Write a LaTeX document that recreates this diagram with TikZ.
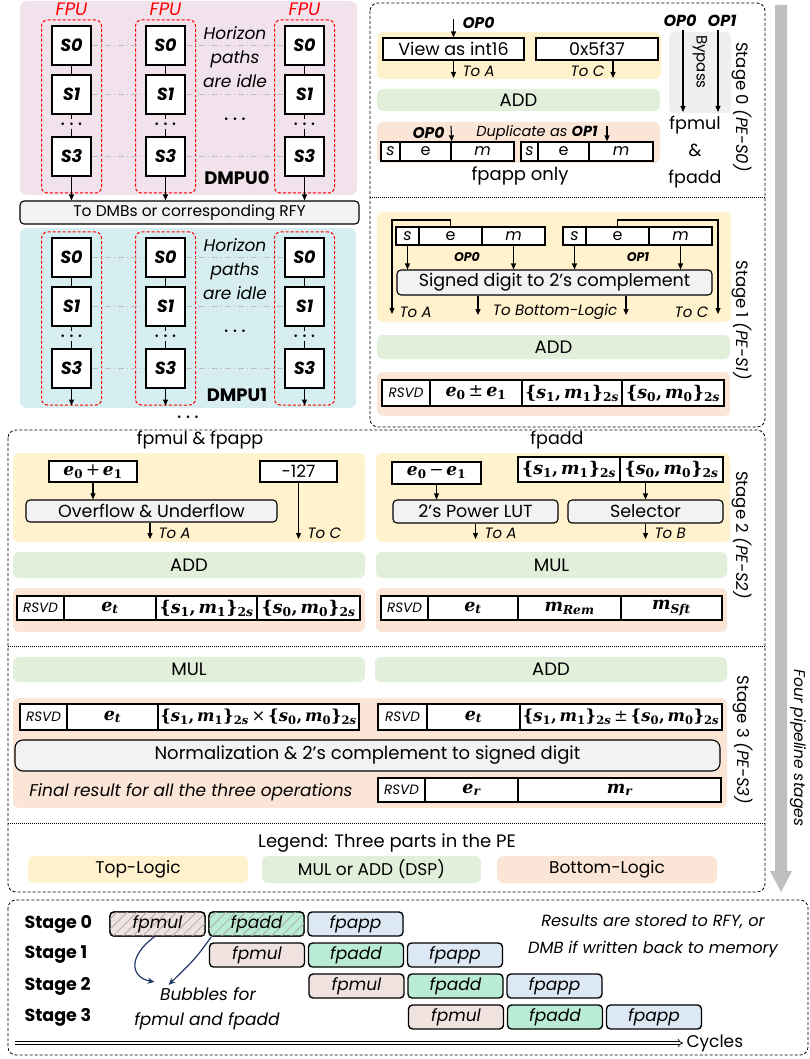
\RequirePackage{fix-cm}
\documentclass[tikz,border=0pt]{standalone}
\usepackage[no-math]{fontspec}
\setmainfont{Poppins}
\newfontfamily\mathlike{DejaVu Serif}
\usetikzlibrary{positioning,calc,arrows.meta,patterns.meta}
\definecolor{TopY}{HTML}{FFF2CC}
\definecolor{DspG}{HTML}{E2EFDA}
\definecolor{BotO}{HTML}{FBE5D6}
\definecolor{BoxGray}{HTML}{F2F2F2}
\definecolor{ByGray}{HTML}{EFEFEF}
\definecolor{PinkP}{HTML}{F1E2EB}
\definecolor{CyanP}{HTML}{D7EEF0}
\definecolor{FpuRed}{HTML}{FF0000}
\definecolor{PathGray}{HTML}{BFBFBF}
\definecolor{MulC}{HTML}{F0E3DF}
\definecolor{AddC}{HTML}{B9EBD5}
\definecolor{AppC}{HTML}{DDE8F5}
\definecolor{Navy}{HTML}{1F3864}
\newcommand{\fsz}[2]{\fontsize{#1}{#2}\selectfont}
\newcommand{\rsv}{{\fsz{13.5}{13.5}\itshape RSVD}}
% bold serif "math" look
\newcommand{\mf}{\mathlike\bfseries}
\newcommand{\mvar}[2]{{\mf\itshape #1}\textsubscript{\mf #2}}
\newcommand{\mvari}[2]{{\mf\itshape #1}\textsubscript{\mf\itshape #2}}
\newcommand{\mpair}[1]{{\mf\{}\mvar{s}{#1}{\mf,\,}\mvar{m}{#1}{\mf\}}\textsubscript{\mf 2\itshape s}}
\newcommand{\mop}[1]{\,{\mathlike #1}\,}
\begin{document}
\begin{tikzpicture}[x=1pt,y=-1pt,font=\fsz{17.5}{17.5},
  panel/.style={rounded corners=6pt,inner sep=0pt},
  toplogic/.style={panel,fill=TopY},
  dsp/.style={panel,fill=DspG,font=\fsz{18}{18}},
  botlogic/.style={panel,fill=BotO},
  wbox/.style={draw,line width=1.3pt,fill=white,inner sep=0pt},
  gbox/.style={draw,line width=1.1pt,fill=BoxGray,rounded corners=4pt,inner sep=0pt},
  field/.style={draw,line width=1.3pt,fill=white,inner sep=0pt,font=\fsz{16}{16}},
  rcell/.style={draw,line width=1.5pt,fill=white,inner sep=0pt,font=\fsz{17.5}{17.5}},
  sbox/.style={draw,line width=1.2pt,fill=white,minimum size=39pt,inner sep=0pt,font=\fsz{17.5}{17.5}\bfseries\itshape},
  fpubox/.style={draw=FpuRed,dash pattern=on 3pt off 2pt,line width=1pt,rounded corners=6pt},
  fpulbl/.style={text=FpuRed,font=\fsz{18}{18}\itshape},
  hpath/.style={draw=PathGray,dash pattern=on 6pt off 3pt on 1pt off 3pt,line width=1pt},
  arr/.style={-{Triangle[length=6pt,width=5pt]},line width=1.1pt},
  oplbl/.style={font=\fsz{15.5}{15.5}\bfseries\itshape},
  tolbl/.style={font=\fsz{15}{15}\itshape},
  stagelbl/.style={rotate=-90,font=\fsz{16.5}{16.5}},
  stagebox/.style={draw,dash pattern=on 3pt off 2pt,line width=0.8pt,rounded corners=8pt},
  sepline/.style={draw,dash pattern=on 1pt off 1pt,line width=0.9pt},
  opcell/.style={draw,line width=1.4pt,rounded corners=4pt,minimum width=95pt,minimum height=24pt,inner sep=0pt,font=\fsz{17}{17}\itshape},
  hatch/.style={postaction={pattern={Lines[angle=45,distance=7pt,line width=0.8pt]},pattern color=gray!65}},
  navyarr/.style={draw=Navy,line width=1.2pt,-{Stealth[length=7pt,width=6pt]}}]
\useasboundingbox (0,0) rectangle (810,1059);
% DMPU panels
\fill[PinkP,rounded corners=7pt] (20,1) rectangle (357,195);
\fill[CyanP,rounded corners=7pt] (20,228) rectangle (356,408);
\node[gbox,minimum width=339pt,minimum height=23pt,font=\fsz{15.5}{15.5}] (tod) at (189.5,212.5) {To DMBs or corresponding RFY};
\foreach \cx [count=\c] in {71.5,165.5,304.5}
  \node[fpulbl] (fl\c) at (\cx,9) {FPU};
% FPU columns, S0..S3 in each
\foreach \dy/\ly/\nm [count=\p from 0] in {0/178/DMPU0,212/395/DMPU1} {
  \foreach \cx [count=\c] in {71.5,165.5,304.5} {
    \node[fpubox,minimum width=60pt,minimum height=173pt] (fpu\p\c) at (\cx,106.5+\dy) {};
    \node[sbox] (sa\p\c) at (\cx,45.5+\dy) {S0};
    \node[sbox] (sb\p\c) at (\cx,94.5+\dy) {S1};
    \node[inner sep=1pt,font=\fsz{17}{17}\boldmath] (sd\p\c) at (\cx,124+\dy) {$\cdots$};
    \node[sbox] (sc\p\c) at (\cx,156.5+\dy) {S3};
    \draw[line width=1.1pt] (sa\p\c) -- (sb\p\c) (sb\p\c) -- (sd\p\c) (sd\p\c) -- (sc\p\c);
  }
  % idle horizontal paths
  \foreach \s in {a,b,c}
    \draw[hpath] (s\s\p1) -- (s\s\p2) (s\s\p2) -- (s\s\p3);
  \node[align=center,font=\fsz{17}{24}\itshape] (idle\p) at (235,57+\dy) {Horizon\\paths\\are idle};
  \node[font=\fsz{17}{17}\boldmath] (hd\p) at (235,119+\dy) {$\cdots$};
  \node[font=\fsz{18}{18}\bfseries] (lb\p) at (237,\ly) {\nm};
}
\foreach \c in {1,2,3} {
  \draw[arr] (sc0\c) -- (sc0\c |- tod.north);
  \draw[arr] (sc1\c) -- (sc1\c |- fpu1\c.south);
}
\node[font=\fsz{17}{17}\boldmath] (more) at (188,417) {$\cdots$};
% stage 0 and 1 frame
\draw[stagebox] (370,3) rectangle (765,427);
\draw[sepline] (370,197) -- (765,197);
% stage 0
\fill[toplogic] (377,32) rectangle (661,79);
\node[wbox,minimum width=141pt,minimum height=22pt] (view) at (453.5,49) {View as int16};
\node[wbox,minimum width=122pt,minimum height=22pt] (magic) at (597,49) {0x5f37};
\node[oplbl,anchor=west] (opz) at (459,23) {OP0};
\coordinate (opzin) at (453.5,19);
\draw[arr] (opzin) -- (view);
\coordinate (s0a) at (453.5,78);
\draw[arr] (view) -- (s0a);
\node[tolbl,anchor=west] (s0al) at (459,71) {To A};
\coordinate (s0c) at (613,78);
\draw[arr] (magic.south -| s0c) -- (s0c);
\node[tolbl,anchor=east] (s0cl) at (608,71) {To C};
\node[dsp,minimum width=283pt,minimum height=22pt] (add0) at (518.5,100) {ADD};
\fill[botlogic] (377,122) rectangle (660,163);
\foreach \xa/\xb/\t [count=\i] in {381/400/\textit{s},400/451/e,451/514/\textit{m},521/538/\textit{s},538/589/e,589/653/\textit{m}}
  \node[field,minimum width={(\xb-\xa)*1pt},minimum height=19pt] (dp\i) at ({(\xa+\xb)/2},151.5) {\t};
\node[oplbl,anchor=east] (opzb) at (448,133) {OP0};
\coordinate (dpin0) at (451,126);
\draw[arr] (dpin0) -- (dp2.north east);
\node[font=\fsz{14.5}{14.5}\itshape] (dupl) at (537,133) {Duplicate as \textbf{OP1}};
\coordinate (dpin1) at (607,126);
\draw[arr] (dpin1) -- (dpin1 |- dp6.north);
\node[font=\fsz{18}{18}] (fpo) at (520,176) {fpapp only};
% bypass
\node[fill=ByGray,rounded corners=4pt,minimum width=62pt,minimum height=81pt] (byp) at (700,72.5) {};
\node[rotate=-90,font=\fsz{15}{15}] (bypl) at (700,62) {Bypass};
\node[oplbl,font=\fsz{16}{16}\bfseries\itshape] (bya) at (680,21) {OP0};
\node[oplbl,font=\fsz{16}{16}\bfseries\itshape] (byb) at (722,21) {OP1};
\coordinate (bye0) at (683,112);
\coordinate (bye1) at (718,112);
\draw[arr] (bya.south -| bye0) -- (bye0);
\draw[arr] (byb.south -| bye1) -- (bye1);
\node[align=center,font=\fsz{17.5}{27}] (bypo) at (695,152) {fpmul\\\&\\fpadd};
\node[stagelbl] (st0) at (742,107) {Stage 0 \textit{(PE-S0)}};
% stage 1
\fill[toplogic] (377,212) rectangle (731,322);
\foreach \xa/\xb/\t [count=\i] in {396/419/\textit{s},419/482/e,482/545/\textit{m},563/586/\textit{s},586/649/e,649/712/\textit{m}}
  \node[field,minimum width={(\xb-\xa)*1pt},minimum height=18pt] (op\i) at ({(\xa+\xb)/2},236) {\t};
\node[oplbl,font=\fsz{12.5}{12.5}\bfseries\itshape] (opl0) at (467,257) {OP0};
\node[oplbl,font=\fsz{12.5}{12.5}\bfseries\itshape] (opl1) at (638,257) {OP1};
\node[gbox,minimum width=315pt,minimum height=25pt] (sgn) at (554.5,282.5) {Signed digit to 2’s complement};
\coordinate (hz0) at (392,220); \coordinate (toa1) at (392,314);
\coordinate (hz1) at (718,220); \coordinate (toc1) at (718,314);
\draw[arr] (op2.north) |- (hz0) -- (toa1);
\draw[arr] (op5.north) |- (hz1) -- (toc1);
\foreach \i in {1,3,4,6}
  \draw[arr] (op\i.south) -- (op\i.south |- sgn.north);
\coordinate (tbl0) at (478,315); \coordinate (tbl1) at (626,315);
\draw[arr] (sgn.south -| tbl0) -- (tbl0);
\draw[arr] (sgn.south -| tbl1) -- (tbl1);
\node[tolbl,anchor=west] (s1al) at (396,312) {To A};
\node[tolbl] (s1bl) at (555,312) {To Bottom-Logic};
\node[tolbl,anchor=east] (s1cl) at (712,312) {To C};
\node[dsp,minimum width=353pt,minimum height=24pt] (add1) at (553.5,347) {ADD};
\fill[botlogic] (377,372) rectangle (730,416);
\foreach \xa/\xb/\t [count=\i] in {382/430/{\rsv},430/522/{\mvar{e}{0}\mop{±}\mvar{e}{1}},522/622/{\mpair{1}},622/724/{\mpair{0}}}
  \node[rcell,minimum width={(\xb-\xa)*1pt},minimum height=26pt] (ra\i) at ({(\xa+\xb)/2},393) {\t};
\node[stagelbl] (st1) at (742,320) {Stage 1 \textit{(PE-S1)}};
% stage 2, 3 and legend frame
\draw[stagebox] (8,430) rectangle (765,892);
% stage 2, fpmul & fpapp
\node (hd2a) at (200,440) {fpmul \& fpapp};
\fill[toplogic] (13,453) rectangle (365,542);
\node[wbox,minimum width=88pt,minimum height=21pt,font=\fsz{17}{17}] (esum) at (93,471.5) {\mvar{e}{0}\mop{+}\mvar{e}{1}};
\node[gbox,minimum width=251pt,minimum height=22pt] (ovf) at (151.5,511) {Overflow \& Underflow};
\draw[arr] (esum) -- (esum |- ovf.north);
\coordinate (s2a) at (150,539);
\draw[arr] (ovf.south -| s2a) -- (s2a);
\node[tolbl,anchor=west] (s2al) at (155,533) {To A};
\node[wbox,minimum width=77pt,minimum height=21pt,font=\fsz{17}{17}] (bias) at (298.5,471.5) {-127};
\coordinate (s2c) at (298.5,539);
\draw[arr] (bias) -- (s2c);
\node[tolbl,anchor=west] (s2cl) at (304,533) {To C};
\node[dsp,minimum width=352pt,minimum height=26pt] (add2) at (189,565) {ADD};
\fill[botlogic] (13,588) rectangle (365,632);
\foreach \xa/\xb/\t [count=\i] in {17/64/{\rsv},64/156/{\mvari{e}{t}},156/257/{\mpair{1}},257/360/{\mpair{0}}}
  \node[rcell,minimum width={(\xb-\xa)*1pt},minimum height=24pt] (rb\i) at ({(\xa+\xb)/2},608) {\t};
% stage 2, fpadd
\node (hd2b) at (557,440) {fpadd};
\fill[toplogic] (376,453) rectangle (730,542);
\node[wbox,minimum width=89pt,minimum height=22pt,font=\fsz{17}{17}] (edif) at (436.5,473) {\mvar{e}{0}\mop{−}\mvar{e}{1}};
\foreach \xa/\xb/\t [count=\i] in {518/620/{\mpair{1}},620/723/{\mpair{0}}}
  \node[rcell,minimum width={(\xb-\xa)*1pt},minimum height=25pt] (sm\i) at ({(\xa+\xb)/2},469.5) {\t};
\node[gbox,minimum width=165pt,minimum height=23pt] (lut) at (475.5,511.5) {2’s Power LUT};
\node[gbox,minimum width=155pt,minimum height=23pt] (sel) at (645.5,511.5) {Selector};
\draw[arr] (edif) -- (edif |- lut.north);
\draw[arr] (sel.north |- sm2.south) -- (sel.north);
\coordinate (s2a2) at (475.5,539); \coordinate (s2b2) at (645.5,539);
\draw[arr] (lut) -- (s2a2);
\draw[arr] (sel) -- (s2b2);
\node[tolbl,anchor=west] (s2al2) at (481,533) {To A};
\node[tolbl,anchor=west] (s2bl2) at (651,533) {To B};
\node[dsp,minimum width=351pt,minimum height=26pt] (mul2) at (551.5,565) {MUL};
\fill[botlogic] (376,588) rectangle (727,632);
\foreach \xa/\xb/\t [count=\i] in {381/428/{\rsv},428/518/{\mvari{e}{t}},518/621/{\mvari{m}{Rem}},621/722/{\mvari{m}{Sft}}}
  \node[rcell,minimum width={(\xb-\xa)*1pt},minimum height=24pt] (rc\i) at ({(\xa+\xb)/2},608) {\t};
\node[stagelbl] (st2) at (742,535) {Stage 2 \textit{(PE-S2)}};
\draw[sepline] (8,646) -- (765,646);
% stage 3
\node[dsp,minimum width=352pt,minimum height=25pt] (mul3) at (189,669.5) {MUL};
\node[dsp,minimum width=352pt,minimum height=25pt] (add3) at (551,669.5) {ADD};
\fill[botlogic] (13,698) rectangle (727,808);
\foreach \xa/\xb/\t [count=\i] in {20/67/{\rsv},67/158/{\mvari{e}{t}},158/359/{\fsz{16.5}{16.5}\mpair{1}\mop{×}\mpair{0}}}
  \node[rcell,minimum width={(\xb-\xa)*1pt},minimum height=26pt] (rd\i) at ({(\xa+\xb)/2},717) {\t};
\foreach \xa/\xb/\t [count=\i] in {378/427/{\rsv},427/520/{\mvari{e}{t}},520/722/{\fsz{16.5}{16.5}\mpair{1}\mop{±}\mpair{0}}}
  \node[rcell,minimum width={(\xb-\xa)*1pt},minimum height=26pt] (re\i) at ({(\xa+\xb)/2},717) {\t};
\node[gbox,rounded corners=8pt,minimum width=705pt,minimum height=31pt,font=\fsz{18}{18}] (norm) at (367.5,755.5) {Normalization \& 2’s complement to signed digit};
\node[font=\fsz{17}{17}\itshape] (fin) at (191,792) {Final result for all the three operations};
\foreach \xa/\xb/\t [count=\i] in {378/425/{\rsv},425/518/{\mvari{e}{r}},518/721/{\mvari{m}{r}}}
  \node[rcell,minimum width={(\xb-\xa)*1pt},minimum height=24pt] (rf\i) at ({(\xa+\xb)/2},790) {\t};
\node[stagelbl] (st3) at (743,740) {Stage 3 \textit{(PE-S3)}};
\draw[sepline] (8,823) -- (765,823);
% legend
\node[font=\fsz{18}{18}] (leg) at (387,843) {Legend: Three parts in the PE};
\node[toplogic,minimum width=220pt,minimum height=27pt,font=\fsz{17}{17}] (lg1) at (138,869.5) {Top-Logic};
\node[dsp,minimum width=219pt,minimum height=27pt,font=\fsz{17}{17}] (lg2) at (371.5,869.5) {MUL or ADD (DSP)};
\node[botlogic,minimum width=220pt,minimum height=27pt,font=\fsz{17}{17}] (lg3) at (607,869.5) {Bottom-Logic};
% pipeline arrow
\fill[PathGray] (775,5) -- (787,5) -- (787,871) -- (792,871) -- (781,892) -- (770,871) -- (775,871) -- cycle;
\node[rotate=-90,font=\fsz{15.5}{15.5}\itshape] (fps) at (798,748) {Four pipeline stages};
% timing of the three operations
\draw[stagebox] (8,900) rectangle (808,1055);
\foreach \r in {0,...,3} {
  \node[font=\fsz{17.5}{17.5}\bfseries,anchor=west] (stg\r) at (21,{924+31*\r}) {Stage \r};
  \foreach \op/\colr [count=\c from 0] in {fpmul/MulC,fpadd/AddC,fpapp/AppC}
    \node[opcell,fill=\colr] (b\r\c) at ({157.5+99.5*\r+99*\c},{924+31*\r}) {\op};
}
\node[opcell,fill=MulC,hatch] (h00) at (b00) {fpmul};
\node[opcell,fill=AddC,hatch] (h01) at (b01) {fpadd};
\node[font=\fsz{17}{17}\itshape] (bub) at (208,994) {Bubbles for};
\node[font=\fsz{17}{17}\itshape] (bub2) at (207,1021) {fpmul and fpadd};
\draw[navyarr] ([xshift=-3pt]h00.south) .. controls (126,958) and (132,978) .. ([xshift=-2pt,yshift=2pt]bub.north west);
\draw[navyarr] ([xshift=3pt]h01.south west) .. controls (196,958) .. ([xshift=12pt,yshift=-1pt]bub.north west);
\node[align=center,font=\fsz{16.2}{27}\itshape] (res) at (653,936) {Results are stored to RFY, or\\DMB if written back to memory};
\coordinate (cyc0) at (15,1043);
\node[anchor=west,font=\fsz{17}{17}] (cyc) at (683,1043) {Cycles};
\draw[double,double distance=2pt,line width=0.7pt,-{Implies}] (cyc0) -- (cyc.west);
\end{tikzpicture}
\end{document}
